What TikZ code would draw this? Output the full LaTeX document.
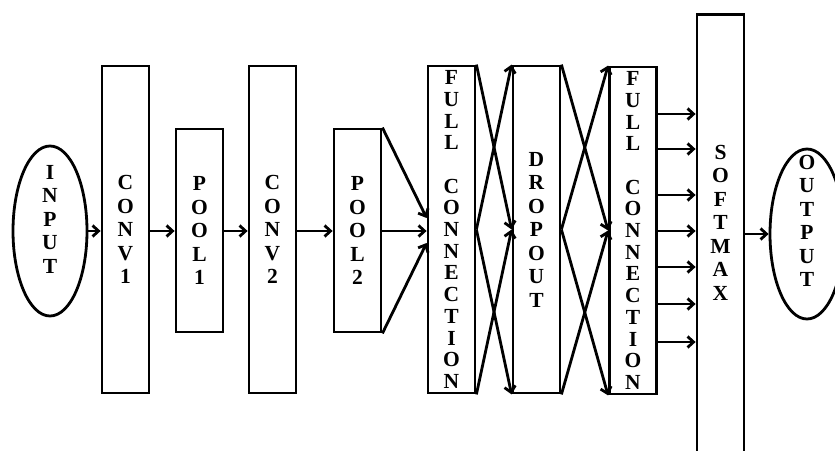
\documentclass[tikz,border=0pt]{standalone}
\usepackage{fontspec}
\setmainfont{Liberation Serif}
\usetikzlibrary{arrows.meta,positioning,shapes.geometric,calc}

\begin{document}
\begin{tikzpicture}[x=1pt,y=-1pt,line width=2.8pt,
  font=\bfseries\fontsize{21.5}{23.5}\selectfont,
  lay/.style={rectangle,draw,align=center,minimum width=47pt,inner sep=0pt},
  tall/.style={lay,minimum height=327pt},
  short/.style={lay,minimum height=203pt},
  fc/.style={tall,font=\bfseries\fontsize{21.5}{21.7}\selectfont},
  io/.style={ellipse,draw,minimum width=74pt,minimum height=170pt,inner sep=0pt},
  >={Straight Barb[length=6pt,width=11pt]}]
  \useasboundingbox (0,0) rectangle (835,450);
  % entree
  \node[io] (input) at (50,231) {};
  \node[align=center] (intext) at ($(input)+(0,-12)$) {I\\N\\P\\U\\T};
  % couches
  \node[tall] (conv1) at (125.5,229.5) {C\\O\\N\\V\\1};
  \node[short] (pool1) at (199.5,230.5) {P\\O\\O\\L\\1};
  \node[tall] (conv2) at (272.5,229.5) {C\\O\\N\\V\\2};
  \node[short] (pool2) at (357.5,230.5) {P\\O\\O\\L\\2};
  \node[fc] (fc1) at (451.5,229.5) {F\\U\\L\\L\\[21.7pt]C\\O\\N\\N\\E\\C\\T\\I\\O\\N};
  \node[tall] (drop) at (536.5,229.5) {D\\R\\O\\P\\O\\U\\T};
  \node[fc] (fc2) at (633,230.5) {F\\U\\L\\L\\[21.7pt]C\\O\\N\\N\\E\\C\\T\\I\\O\\N};
  \node[lay,minimum height=460pt,anchor=north] (softmax) at (720.5,13) {};
  \node[align=center] (smtext) at (720.5,222.5) {S\\O\\F\\T\\M\\A\\X};
  % sortie
  \node[io] (output) at (807,234) {};
  \node[align=center] (outtext) at ($(output)+(0,-13)$) {O\\U\\T\\P\\U\\T};
  % fleches
  \draw[->] (input.east) -- (input.east -| conv1.west);
  \draw[->] (conv1.east |- 0,231) -- (pool1.west |- 0,231);
  \draw[->] (pool1.east |- 0,231) -- (conv2.west |- 0,231);
  \draw[->] (conv2.east |- 0,231) -- (pool2.west |- 0,231);
  \draw[->] (pool2.north east) -- (fc1.west |- 0,218);
  \draw[->] (pool2.east |- 0,231) -- (fc1.west |- 0,231);
  \draw[->] (pool2.south east) -- (fc1.west |- 0,243);
  \foreach \a/\b in {fc1/drop,drop/fc2} {
    \draw[->] (\a.north east) -- (\b.west);
    \draw[->] (\a.east) -- (\b.north west);
    \draw[->] (\a.east) -- (\b.south west);
    \draw[->] (\a.south east) -- (\b.west);
  }
  \foreach \y in {114,149,195,231,267,304,342}
    \draw[->] (fc2.east |- 0,\y) -- (softmax.west |- 0,\y);
  \draw[->] (softmax.east |- output.west) -- (output.west);
\end{tikzpicture}
\end{document}
